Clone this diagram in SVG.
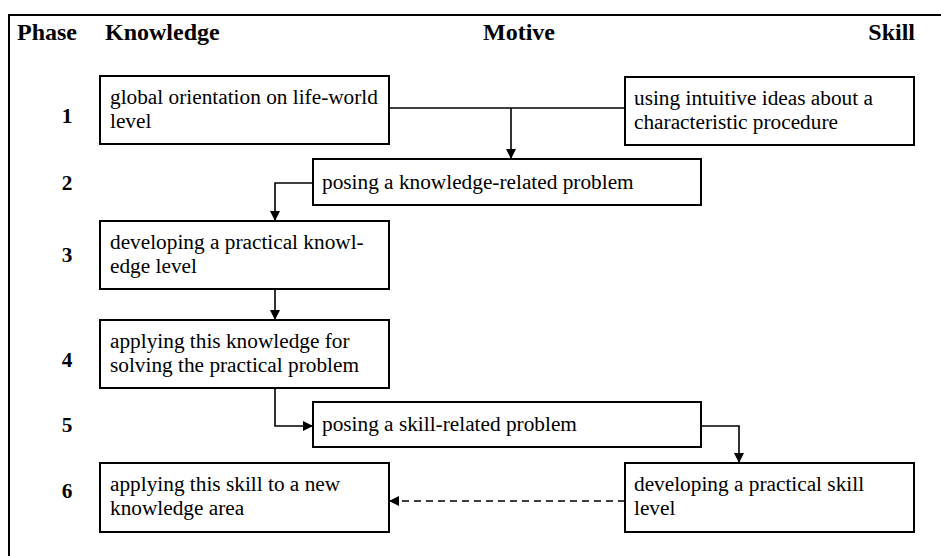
<svg xmlns="http://www.w3.org/2000/svg" width="941" height="556" viewBox="0 0 941 556">
<defs>
<style>
.box{fill:#fff;stroke:#000;stroke-width:2}
.t{font-family:"Liberation Serif","Times New Roman",serif;font-size:21.3px;fill:#000}
.h{font-family:"Liberation Serif","Times New Roman",serif;font-size:24px;font-weight:bold;fill:#000}
.n{font-family:"Liberation Serif","Times New Roman",serif;font-size:21.3px;font-weight:bold;fill:#000;text-anchor:middle}
.c{fill:none;stroke:#000;stroke-width:1.6}
.d{fill:none;stroke:#000;stroke-width:1.6;stroke-dasharray:7 5}
.frame{fill:none;stroke:#000;stroke-width:2}
</style>
<marker id="ah" viewBox="0 0 10 10" refX="10" refY="5" markerWidth="10" markerHeight="10" markerUnits="userSpaceOnUse" orient="auto">
<path d="M0,0 L10,5 L0,10 z" fill="#000"/>
</marker>
</defs>
<rect width="941" height="556" fill="#fff"/>
<path class="frame" d="M9,556 V15 H941"/>
<g id="headers">
<text class="h" x="17" y="40">Phase</text>
<text class="h" x="105" y="40">Knowledge</text>
<text class="h" x="483" y="40">Motive</text>
<text class="h" x="915" y="40" text-anchor="end">Skill</text>
</g>
<g id="phases">
<text class="n" x="67" y="123">1</text>
<text class="n" x="67" y="190">2</text>
<text class="n" x="67" y="262">3</text>
<text class="n" x="67" y="367">4</text>
<text class="n" x="67" y="432">5</text>
<text class="n" x="67" y="498">6</text>
</g>
<g id="connectors">
<path class="c" d="M389,108 H625"/>
<path class="c" d="M511,108 V159" marker-end="url(#ah)"/>
<path class="c" d="M313,183 H275 V221" marker-end="url(#ah)"/>
<path class="c" d="M275,289 V320" marker-end="url(#ah)"/>
<path class="c" d="M275,388 V426 H313" marker-end="url(#ah)"/>
<path class="c" d="M701,426 H739 V463" marker-end="url(#ah)"/>
<path class="d" d="M625,501 H389" marker-end="url(#ah)"/>
</g>
<g id="k1">
<rect class="box" x="100" y="76" width="289" height="68"/>
<text class="t" x="110" y="104">global orientation on life-world</text>
<text class="t" x="110" y="128">level</text>
</g>
<g id="s1">
<rect class="box" x="625" y="77" width="289" height="68"/>
<text class="t" x="634" y="105">using intuitive ideas about a</text>
<text class="t" x="634" y="129">characteristic procedure</text>
</g>
<g id="m2">
<rect class="box" x="313" y="159" width="388" height="46"/>
<text class="t" x="322" y="189">posing a knowledge-related problem</text>
</g>
<g id="k3">
<rect class="box" x="100" y="221" width="289" height="68"/>
<text class="t" x="110" y="249">developing a practical knowl-</text>
<text class="t" x="110" y="273">edge level</text>
</g>
<g id="k4">
<rect class="box" x="100" y="320" width="289" height="68"/>
<text class="t" x="110" y="348">applying this knowledge for</text>
<text class="t" x="110" y="372">solving the practical problem</text>
</g>
<g id="m5">
<rect class="box" x="313" y="402" width="388" height="45"/>
<text class="t" x="322" y="431">posing a skill-related problem</text>
</g>
<g id="s6">
<rect class="box" x="625" y="463" width="289" height="69"/>
<text class="t" x="634" y="491">developing a practical skill</text>
<text class="t" x="634" y="515">level</text>
</g>
<g id="k6">
<rect class="box" x="100" y="463" width="289" height="69"/>
<text class="t" x="110" y="491">applying this skill to a new</text>
<text class="t" x="110" y="515">knowledge area</text>
</g>
</svg>
